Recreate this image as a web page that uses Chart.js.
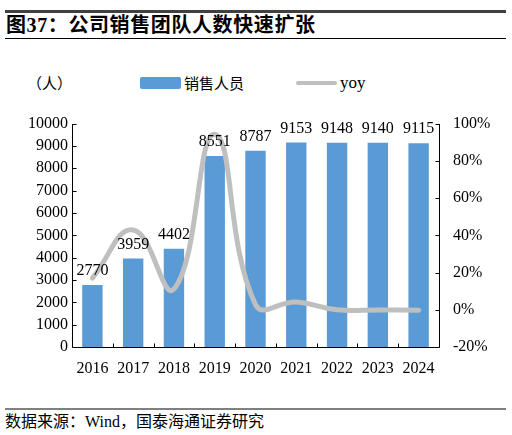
<!DOCTYPE html>
<html><head><meta charset="utf-8">
<script src="https://cdn.jsdelivr.net/npm/chart.js@4.4.1/dist/chart.umd.min.js"></script>
<style>
body{margin:0;width:512px;height:435px;background:#fff;position:relative;overflow:hidden;font-family:"Liberation Serif","Noto Sans CJK SC",serif;color:#000}
.abs{position:absolute;white-space:nowrap}
#topbar{left:5px;top:10px;width:501px;height:3px;background:#404040}
#title{left:6px;top:12px;font-size:20px;font-weight:bold;line-height:26px;letter-spacing:0.6px}
#tline{left:5px;top:38px;width:501px;height:1px;background:#000}
#unit{left:27px;top:73px;font-size:15px;line-height:20px;font-family:"Noto Sans CJK SC",sans-serif}
#sw1{left:140px;top:77px;width:41px;height:12px;background:#5B9BD5;border-radius:2px}
#lt1{left:184px;top:72px;font-size:15px;line-height:22px;font-family:"Noto Sans CJK SC",sans-serif}
#sw2{left:296px;top:81px;width:41px;height:4px;background:#BFBFBF;border-radius:2px}
#lt2{left:340px;top:72px;font-size:17px;line-height:22px}
#bline{left:5px;top:408px;width:501px;height:2px;background:#808080}
#src{left:5px;top:411px;font-size:16px;line-height:22px}
#cv{position:absolute;left:0;top:100px}
</style></head>
<body>
<div class="abs" id="topbar"></div>
<div class="abs" id="title">图37：公司销售团队人数快速扩张</div>
<div class="abs" id="tline"></div>
<div class="abs" id="unit">（人）</div>
<div class="abs" id="sw1"></div>
<div class="abs" id="lt1">销售人员</div>
<div class="abs" id="sw2"></div>
<div class="abs" id="lt2">yoy</div>
<div class="abs" id="bline"></div>
<div class="abs" id="src">数据来源：Wind，国泰海通证券研究</div>
<canvas id="cv" width="512" height="280"></canvas>
<script>
const categories = ["2016","2017","2018","2019","2020","2021","2022","2023","2024"];
const staff = [2770,3959,4402,8551,8787,9153,9148,9140,9115];
const yoy = [17,42.9,11.2,94.3,2.8,4.2,-0.05,-0.09,-0.27];
const leftTicks = [0,1000,2000,3000,4000,5000,6000,7000,8000,9000,10000];
const rightTicks = [-20,0,20,40,60,80,100];

const FONT = '"Liberation Serif", serif';

const axesPlugin = {
  id:'axesDeco',
  afterDatasetsDraw(chart){
    const ctx = chart.ctx, a = chart.chartArea;
    const x = chart.scales.x, yl = chart.scales.yl, yr = chart.scales.yr;
    ctx.save();
    ctx.strokeStyle = '#000'; ctx.lineWidth = 1;
    ctx.beginPath();
    const L = Math.round(a.left)+0.5, R = Math.round(a.right)+0.5, B = Math.round(a.bottom)+0.5, T = Math.round(a.top);
    ctx.moveTo(L,T); ctx.lineTo(L,B); ctx.lineTo(R,B); ctx.lineTo(R,T);
    leftTicks.forEach(v=>{const y=Math.round(yl.getPixelForValue(v))+0.5; ctx.moveTo(L,y); ctx.lineTo(L+4,y);});
    rightTicks.forEach(v=>{const y=Math.round(yr.getPixelForValue(v))+0.5; ctx.moveTo(R,y); ctx.lineTo(R-4,y);});
    for(let i=1;i<categories.length;i++){
      const xx = Math.round((x.getPixelForValue(i-1)+x.getPixelForValue(i))/2)+0.5;
      ctx.moveTo(xx,B); ctx.lineTo(xx,B-4);
    }
    ctx.stroke();
    ctx.restore();
  },
  afterDraw(chart){
    const ctx = chart.ctx;
    ctx.save();
    ctx.fillStyle = '#000'; ctx.font = '16px '+FONT; ctx.textAlign='center'; ctx.textBaseline='alphabetic';
    const meta = chart.getDatasetMeta(1);
    meta.data.forEach((bar,i)=>{ ctx.fillText(String(staff[i]), bar.x, bar.y-10); });
    ctx.restore();
  }
};

new Chart(document.getElementById('cv'),{
  data:{
    labels:categories,
    datasets:[
      {type:'line',label:'yoy',data:yoy,yAxisID:'yr',borderColor:'#BFBFBF',borderWidth:5,tension:0.45,pointRadius:0,fill:false,order:0,borderCapStyle:'round'},
      {type:'bar',label:'销售人员',data:staff,yAxisID:'yl',backgroundColor:'#5B9BD5',barPercentage:0.5,categoryPercentage:1,order:1}
    ]
  },
  options:{
    responsive:false,animation:false,
    layout:{padding:{top:21,left:0,right:0,bottom:0}},
    plugins:{legend:{display:false},tooltip:{enabled:false}},
    scales:{
      x:{grid:{display:false,drawTicks:false},border:{display:false},
         ticks:{padding:12,color:'#000',font:{family:FONT,size:16}},
         afterFit(s){s.height=33;}},
      yl:{position:'left',min:0,max:10000,grid:{display:false,drawTicks:false},border:{display:false},
         afterBuildTicks(s){s.ticks=leftTicks.map(v=>({value:v}));},
         ticks:{padding:4,color:'#000',font:{family:FONT,size:16},callback:v=>String(v)},
         afterFit(s){s.width=72;}},
      yr:{position:'right',min:-20,max:100,grid:{display:false,drawTicks:false},border:{display:false},
         afterBuildTicks(s){s.ticks=rightTicks.map(v=>({value:v}));},
         ticks:{padding:14,color:'#000',font:{family:FONT,size:16},callback:v=>v+'%'},
         afterFit(s){s.width=73;}}
    }
  },
  plugins:[axesPlugin]
});
</script>
</body></html>
